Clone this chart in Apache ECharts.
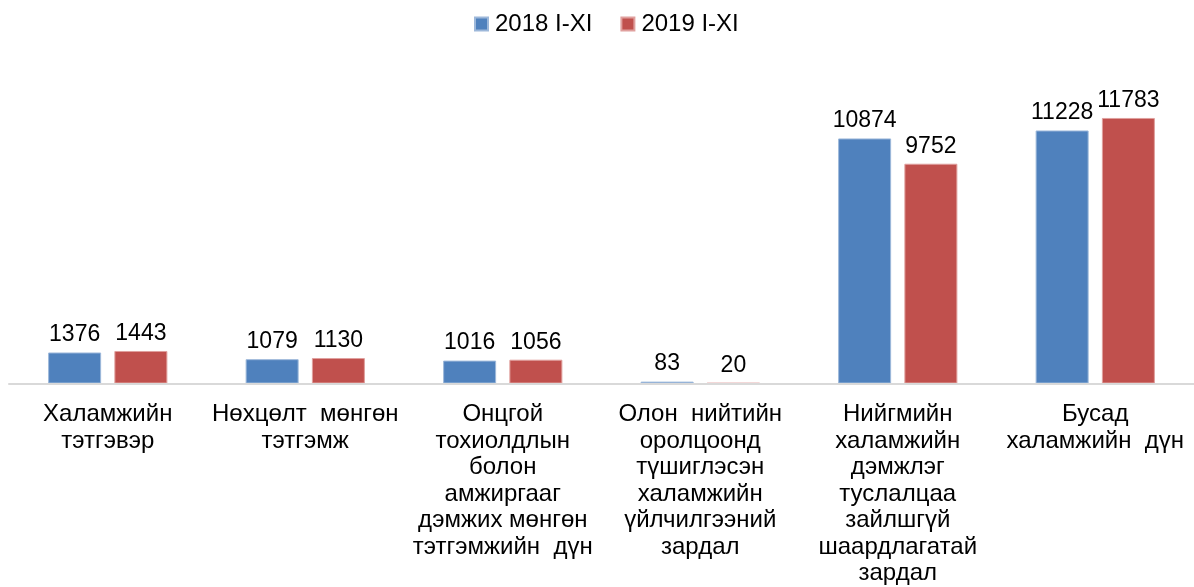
<!DOCTYPE html>
<html>
<head>
<meta charset="utf-8">
<script src="https://cdn.jsdelivr.net/npm/echarts@6/dist/echarts.min.js"></script>
<style>
html,body{margin:0;padding:0;background:#fff;}
#chart{width:1194px;height:587px;}
</style>
</head>
<body>
<div id="chart"></div>
<script>
const categories = [
  "Халамжийн\nтэтгэвэр",
  "Нөхцөлт  мөнгөн\nтэтгэмж",
  "Онцгой\nтохиолдлын\nболон\nамжиргааг\nдэмжих мөнгөн\nтэтгэмжийн  дүн",
  "Олон  нийтийн\nоролцоонд\nтүшиглэсэн\nхаламжийн\nүйлчилгээний\nзардал",
  "Нийгмийн\nхаламжийн\nдэмжлэг\nтуслалцаа\nзайлшгүй\nшаардлагатай\nзардал",
  "Бусад\nхаламжийн  дүн"
];
const seriesNames = ["2018 I-XI", "2019 I-XI"];
const values2018 = [1376, 1079, 1016, 83, 10874, 11228];
const values2019 = [1443, 1130, 1056, 20, 9752, 11783];

const FONT = "Liberation Sans, Arial, sans-serif";
const chart = echarts.init(document.getElementById('chart'), null, {renderer: 'canvas'});
const labelCfg = {
  show: true, position: 'top', distance: 6,
  color: '#000', fontSize: 23, fontFamily: FONT
};
chart.setOption({
  animation: false,
  textStyle: {fontFamily: FONT},
  legend: {
    top: 7, left: 469,
    itemWidth: 13, itemHeight: 13, itemGap: 28,
    icon: 'rect',
    textStyle: {color: '#000', fontSize: 24, fontFamily: FONT, padding: [0, 0, 0, 2]},
    data: seriesNames
  },
  grid: {left: 9, right: -5, top: 68, bottom: 203, containLabel: false},
  xAxis: {
    type: 'category',
    data: categories,
    z: 3,
    axisLine: {lineStyle: {color: '#D9D9D9', width: 2}},
    axisTick: {show: false},
    axisLabel: {
      interval: 0, color: '#000', fontSize: 24, lineHeight: 26.5,
      fontFamily: FONT, margin: 18, align: 'center'
    }
  },
  yAxis: {
    type: 'value', min: 0, max: 14000,
    show: false,
    splitLine: {show: false}
  },
  series: [
    {
      name: seriesNames[0], type: 'bar', data: values2018,
      barWidth: 53, barGap: '25%',
      itemStyle: {color: '#4F81BD', borderColor: '#9DB8DA', borderWidth: 1},
      label: labelCfg
    },
    {
      name: seriesNames[1], type: 'bar', data: values2019,
      barWidth: 53, barGap: '25%',
      itemStyle: {color: '#C0504D', borderColor: '#E0A09E', borderWidth: 1},
      label: labelCfg
    }
  ]
});
</script>
</body>
</html>
